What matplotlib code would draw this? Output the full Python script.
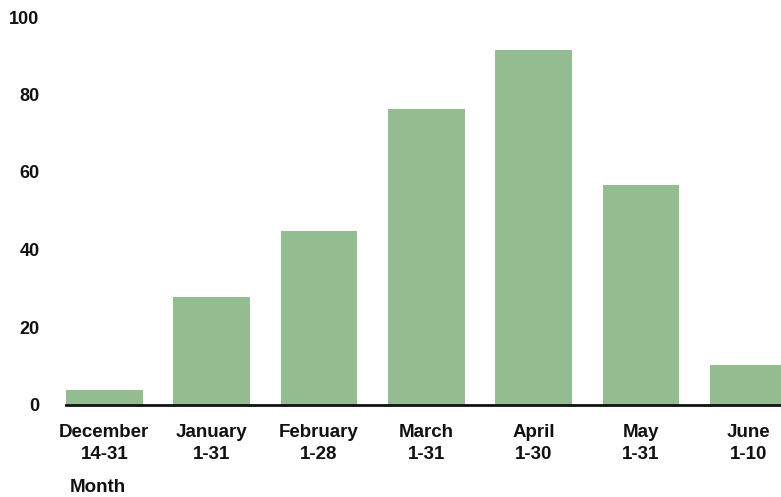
import matplotlib.pyplot as plt
from matplotlib.transforms import ScaledTranslation

plt.rcParams['font.family'] = ['Liberation Sans', 'DejaVu Sans']

# Données
months = ["December\n14-31", "January\n1-31", "February\n1-28", "March\n1-31",
          "April\n1-30", "May\n1-31", "June\n1-10"]
counts = [3.7, 27.8, 44.7, 76.2, 91.4, 56.6, 10.2]
y_ticks = [0, 20, 40, 60, 80, 100]

fig = plt.figure(figsize=(7.81, 4.97), dpi=100)
ax = fig.add_axes([66 / 781, (497 - 404.5) / 497, 720.6 / 781, 387.5 / 497])

x = range(len(months))
ax.bar(x, counts, width=0.715, color="#93bd91", zorder=2)

ax.set_xlim(-0.357, 6.357)
ax.set_ylim(0, 100)
ax.set_yticks(y_ticks)
ax.set_xticks(list(x))
ax.set_xticklabels(months, fontsize=13.5, fontweight="bold", color="#111111",
                   linespacing=1.4)
ax.set_yticklabels([str(v) for v in y_ticks], fontsize=13, fontweight="bold",
                   color="#111111")

# léger décalage vers le bas des étiquettes de l'axe y
offset = ScaledTranslation(0, -3 / 100, fig.dpi_scale_trans)
for lbl in ax.get_yticklabels():
    lbl.set_transform(lbl.get_transform() + offset)

# Axes : seulement la ligne du bas
for side in ["top", "right", "left"]:
    ax.spines[side].set_visible(False)
ax.spines["bottom"].set_linewidth(2)
ax.spines["bottom"].set_color("#111111")
ax.spines["bottom"].set_zorder(3)
ax.tick_params(axis="both", length=0)
ax.tick_params(axis="y", pad=19)
ax.tick_params(axis="x", pad=14)

fig.text(70 / 781, (497 - 487) / 497, "Month", fontsize=13.5, fontweight="bold",
         color="#111111", ha="left", va="center")

fig.savefig("out.png", dpi=100)
